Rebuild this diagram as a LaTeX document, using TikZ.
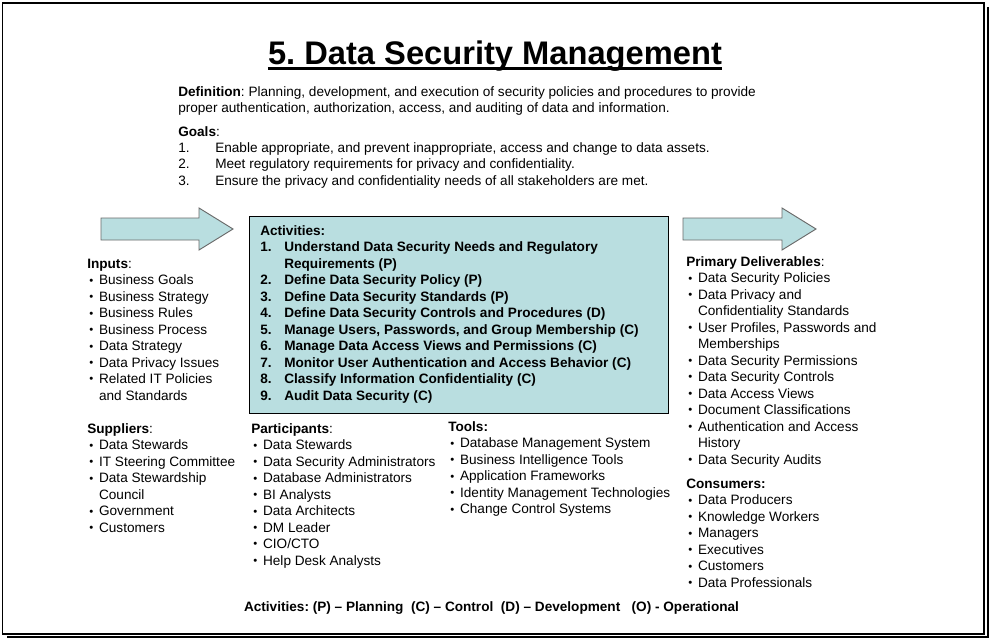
\documentclass[tikz,border=0pt]{standalone}
\usepackage{fontspec}
\setmainfont{Liberation Sans}
\usepackage{tikz}
\usetikzlibrary{positioning, calc}
\usepackage{xcolor}
\definecolor{PaleTeal}{HTML}{B9DEE0}
\definecolor{ArrowGray}{HTML}{6A6A6A}
\frenchspacing
\newcommand{\bul}{\raisebox{0.6pt}{\fontsize{8.5}{8.5}\selectfont\textbullet}}
\newcommand{\hd}[1]{\multicolumn{2}{@{}l@{}}{#1}}
\newenvironment{blist}{\begin{tabular}[t]{@{\hspace{1.5pt}}l@{\hspace{4.4pt}}l@{}}}{\end{tabular}}

\begin{document}
\begin{tikzpicture}[
  x=0.75pt, y=-0.75pt,
  txt/.style={anchor=base west, inner sep=0pt, font={\fontsize{10.2}{12.35}\selectfont}},
  boldtxt/.style={txt, font={\fontsize{10.2}{12.35}\selectfont\bfseries}},
  actbox/.style={rectangle, draw=black, line width=0.9pt, fill=PaleTeal, anchor=north west,
    minimum width=314.25pt, minimum height=147.75pt, inner sep=0pt},
  blockarr/.style={draw=ArrowGray, line width=0.7pt, fill=PaleTeal}
]
  \useasboundingbox (0,0) rectangle (992,639);
  \draw[line width=0.9pt] (988,7) -- (988,637) -- (7,637);
  \draw[line width=1.1pt, fill=white] (2.5,3) rectangle (984,634);

  \node[inner sep=0pt, anchor=base, font={\fontsize{24.5}{28}\selectfont\bfseries}] (title) at (495,64) {5. Data Security Management};
  \draw[line width=2.6pt] ([yshift=-3.2pt]title.base west) -- ([yshift=-3.2pt]title.base east);

  \node[txt] (defn) at (178,96) {\begin{tabular}[t]{@{}l@{}}
    \textbf{Definition}: Planning, development, and execution of security policies and procedures to provide\\
    proper authentication, authorization, access, and auditing of data and information.
  \end{tabular}};
  \node[txt] (goals) at (178,136) {\begin{tabular}[t]{@{}p{27.75pt}@{}l@{}}
    \hd{\textbf{Goals}:}\\
    1. & Enable appropriate, and prevent inappropriate, access and change to data assets.\\
    2. & Meet regulatory requirements for privacy and confidentiality.\\
    3. & Ensure the privacy and confidentiality needs of all stakeholders are met.
  \end{tabular}};

  \draw[blockarr] (101,218) -- (199,218) -- (199,208) -- (233,229) -- (199,250) -- (199,240) -- (101,240) -- cycle;
  \draw[blockarr] (683,218) -- (782,218) -- (782,208) -- (816,229) -- (782,250) -- (782,240) -- (683,240) -- cycle;

  \node[actbox] (act) at (249,216) {};
  \node[boldtxt] (actlist) at (260,235.5) {\begin{tabular}[t]{@{}p{18pt}@{}l@{}}
    \hd{Activities:}\\
    1. & Understand Data Security Needs and Regulatory\\
       & Requirements (P)\\
    2. & Define Data Security Policy (P)\\
    3. & Define Data Security Standards (P)\\
    4. & Define Data Security Controls and Procedures (D)\\
    5. & Manage Users, Passwords, and Group Membership (C)\\
    6. & Manage Data Access Views and Permissions (C)\\
    7. & Monitor User Authentication and Access Behavior (C)\\
    8. & Classify Information Confidentiality (C)\\
    9. & Audit Data Security (C)
  \end{tabular}};

  \node[txt] (inputs) at (87,268.5) {\begin{blist}
    \hd{\textbf{Inputs}:}\\
    \bul & Business Goals\\
    \bul & Business Strategy\\
    \bul & Business Rules\\
    \bul & Business Process\\
    \bul & Data Strategy\\
    \bul & Data Privacy Issues\\
    \bul & Related IT Policies\\
         & and Standards
  \end{blist}};

  \node[txt] (suppliers) at (87,433.5) {\begin{blist}
    \hd{\textbf{Suppliers}:}\\
    \bul & Data Stewards\\
    \bul & IT Steering Committee\\
    \bul & Data Stewardship\\
         & Council\\
    \bul & Government\\
    \bul & Customers
  \end{blist}};

  \node[txt] (participants) at (251,433.5) {\begin{blist}
    \hd{\textbf{Participants}:}\\
    \bul & Data Stewards\\
    \bul & Data Security Administrators\\
    \bul & Database Administrators\\
    \bul & BI Analysts\\
    \bul & Data Architects\\
    \bul & DM Leader\\
    \bul & CIO/CTO\\
    \bul & Help Desk Analysts
  \end{blist}};

  \node[txt] (tools) at (448,431.5) {\begin{blist}
    \hd{\textbf{Tools:}}\\
    \bul & Database Management System\\
    \bul & Business Intelligence Tools\\
    \bul & Application Frameworks\\
    \bul & Identity Management Technologies\\
    \bul & Change Control Systems
  \end{blist}};

  \node[txt] (deliv) at (686,266.5) {\begin{blist}
    \hd{\textbf{Primary Deliverables}:}\\
    \bul & Data Security Policies\\
    \bul & Data Privacy and\\
         & Confidentiality Standards\\
    \bul & User Profiles, Passwords and\\
         & Memberships\\
    \bul & Data Security Permissions\\
    \bul & Data Security Controls\\
    \bul & Data Access Views\\
    \bul & Document Classifications\\
    \bul & Authentication and Access\\
         & History\\
    \bul & Data Security Audits
  \end{blist}};

  \node[txt] (consumers) at (686,488.5) {\begin{blist}
    \hd{\textbf{Consumers:}}\\
    \bul & Data Producers\\
    \bul & Knowledge Workers\\
    \bul & Managers\\
    \bul & Executives\\
    \bul & Customers\\
    \bul & Data Professionals
  \end{blist}};

  \node[boldtxt, anchor=base] (legend) at (491.5,611.5) {Activities: (P) -- Planning\ \ (C) -- Control\ \ (D) -- Development\ \ \ (O) - Operational};
\end{tikzpicture}
\end{document}
